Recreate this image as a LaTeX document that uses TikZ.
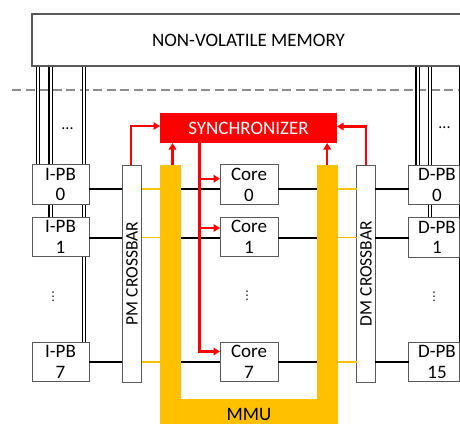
\documentclass[tikz,border=0pt]{standalone}
\usepackage{fontspec}
\setmainfont{Carlito}
\newfontfamily\dejavu{DejaVu Sans}
\usetikzlibrary{arrows.meta,backgrounds}
\definecolor{boxgray}{RGB}{89,89,89}
\definecolor{dashgray}{RGB}{140,140,140}
\definecolor{mmuorange}{RGB}{255,192,0}
\definecolor{syncred}{RGB}{255,0,0}
\begin{document}
\begin{tikzpicture}[x=1pt,y=-1pt,
  every node/.style={inner sep=0pt, outer sep=0pt},
  bigfont/.style={font=\fontsize{19}{20.5}\selectfont},
  pb/.style={draw=boxgray, line width=1pt, fill=white, minimum width=57pt,
    minimum height=39.5pt, align=center, bigfont},
  corebox/.style={pb, minimum width=58pt},
  dpbbox/.style={pb, minimum width=50.7pt},
  xbar/.style={draw=boxgray, line width=1pt, fill=white, minimum height=217pt,
    font=\fontsize{17.5}{18}\selectfont},
  mmupart/.style={fill=mmuorange, draw=none},
  bus/.style={draw=black, line width=1.1pt, double=white, double distance=2pt},
  blk/.style={draw=black, line width=2pt},
  org/.style={draw=mmuorange, line width=1.4pt},
  redln/.style={draw=syncred, line width=2.4pt},
  redar/.style={redln, -{Triangle[length=6.5pt,width=7.5pt]}},
  hdots/.style={font=\fontsize{16}{16}\selectfont},
  vdotsty/.style={font=\dejavu\fontsize{12}{12}\selectfont}
]
\clip (0,0) rectangle (460,424);

% memory
\node[draw=boxgray, line width=1.3pt, fill=white, minimum width=433pt,
  minimum height=52pt, bigfont] (mem) at (248.5,40) {NON-VOLATILE MEMORY};

% PB boxes
\node[pb] (ipb0) at (60.5,184.5) {I-PB\\0};
\node[pb] (ipb1) at (60.5,237) {I-PB\\1};
\node[pb] (ipb7) at (60.5,362) {I-PB\\7};

\node[corebox] (core0) at (249,184.7) {Core\\0};
\node[corebox] (core1) at (249,237) {Core\\1};
\node[corebox] (core7) at (249,362) {Core\\7};

\node[dpbbox] (dpb0) at (433.85,185) {\hspace*{6.3pt}D-PB\\\hspace*{6.3pt}0};
\node[dpbbox] (dpb1) at (433.85,237.3) {\hspace*{6.3pt}D-PB\\\hspace*{6.3pt}1};
\node[dpbbox] (dpb15) at (433.85,362) {\hspace*{6.3pt}D-PB\\\hspace*{6.3pt}15};

% crossbars
\node[xbar, minimum width=19.5pt] (pmx) at (132,273.5) {\rotatebox{90}{PM CROSSBAR}};
\node[xbar, minimum width=18.5pt] (dmx) at (366,273.5) {\rotatebox{90}{DM CROSSBAR}};

% MMU
\node[mmupart, minimum width=21pt, minimum height=259pt] (mmul) at (170.5,294.5) {};
\node[mmupart, minimum width=21pt, minimum height=259pt] (mmur) at (327.2,294.5) {};
\node[mmupart, minimum width=177.7pt, minimum height=25pt, bigfont,
  text height=17pt, text depth=0pt] (mmub) at (248.85,411.5) {MMU};

% synchronizer
\node[fill=syncred, text=white, minimum width=177pt, minimum height=30pt, bigfont]
  (sync) at (248.5,128) {SYNCHRONIZER};

% dots
\node[hdots] (dotsl) at (67.5,129) {...};
\node[hdots] (dotsr) at (444.5,128) {...};
\node[vdotsty] (vdl) at (53,297) {⋮};
\node[vdotsty] (vdc) at (247,296) {⋮};
\node[vdotsty] (vdr) at (434,297) {⋮};

% bus coordinates
\coordinate (bxA) at (38.2,0);
\coordinate (bxB) at (50.5,0);
\coordinate (bxC) at (83.8,0);
\coordinate (bxD) at (417.5,0);
\coordinate (bxE) at (429.8,0);
\coordinate (bxF) at (460.7,0);

\begin{scope}[on background layer]
  \draw[dashgray, line width=1.4pt, dash pattern=on 9pt off 4.5pt] (12,90) -- (462,90);
  \draw[bus] (mem.south -| bxA) -- (ipb0.north -| bxA);
  \draw[bus] (mem.south -| bxB) -- (ipb1.north -| bxB);
  \draw[bus] (mem.south -| bxC) -- (ipb7.north -| bxC);
  \draw[bus] (mem.south -| bxD) -- (dpb0.north -| bxD);
  \draw[bus] (mem.south -| bxE) -- (dpb1.north -| bxE);
  \draw[bus] (mem.south -| bxF) -- (dpb15.north -| bxF);
\end{scope}

% rows
\coordinate (r0) at (0,189);
\coordinate (r1) at (0,237.5);
\coordinate (r7) at (0,362);

\draw[blk] (ipb0.east |- r0) -- (pmx.west |- r0);
\draw[org] (pmx.east |- r0) -- (mmul.west |- r0);
\draw[blk] (mmul.east |- r0) -- (core0.west |- r0);
\draw[blk] (core0.east |- r0) -- (mmur.west |- r0);
\draw[org] (mmur.east |- r0) -- (dmx.west |- r0);
\draw[blk] (dmx.east |- r0) -- (dpb0.west |- r0);

\draw[blk] (ipb1.east |- r1) -- (pmx.west |- r1);
\draw[org] (pmx.east |- r1) -- (mmul.west |- r1);
\draw[blk] (mmul.east |- r1) -- (core1.west |- r1);
\draw[blk] (core1.east |- r1) -- (mmur.west |- r1);
\draw[org] (mmur.east |- r1) -- (dmx.west |- r1);
\draw[blk] (dmx.east |- r1) -- (dpb1.west |- r1);

\draw[blk] (ipb7.east |- r7) -- (pmx.west |- r7);
\draw[org] (pmx.east |- r7) -- (mmul.west |- r7);
\draw[blk] (mmul.east |- r7) -- (core7.west |- r7);
\draw[blk] (core7.east |- r7) -- (mmur.west |- r7);
\draw[org] (mmur.east |- r7) -- (dmx.west |- r7);
\draw[blk] (dmx.east |- r7) -- (dpb15.west |- r7);

% red arrows
\draw[redar] ([xshift=-1.3pt]pmx.north) |- ([yshift=2pt]sync.west);
\draw[redar] ([xshift=2pt]mmul.north) -- ([xshift=2pt]mmul.north |- sync.south);
\draw[redar] (mmur.north) -- (mmur.north |- sync.south);
\draw[redar] (dmx.north) |- ([yshift=1.5pt]sync.east);

\coordinate (tx) at (199.5,0);
\coordinate (c0) at ([yshift=6pt]core0.west);
\coordinate (c1) at ([yshift=9pt]core1.west);
\coordinate (c7) at ([yshift=10.5pt]core7.west);
\draw[redar] (sync.south -| tx) |- (c7);
\draw[redar] (tx |- c0) -- (c0);
\draw[redar] (tx |- c1) -- (c1);
\end{tikzpicture}
\end{document}
